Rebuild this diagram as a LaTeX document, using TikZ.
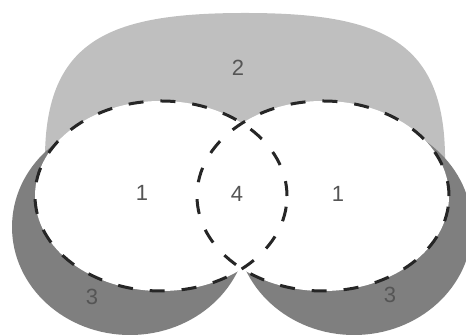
\documentclass[tikz,border=0pt]{standalone}
\usepackage{fontspec}
\setmainfont{Liberation Sans}
\usepackage{xcolor}
\usepackage{tikz}
\definecolor{TopGray}{HTML}{BFBFBF}
\definecolor{LowGray}{HTML}{7F7F7F}
\definecolor{LabelInk}{HTML}{555555}

\begin{document}
\begin{tikzpicture}[x=1pt,y=1pt]
  \path[use as bounding box] (0,0) rectangle (466,336);
  \clip (0,0) rectangle (466,336);

  \tikzset{
    vnTop/.style={fill=TopGray},
    vnLow/.style={fill=LowGray},
    vnSetFill/.style={fill=white},
    vnSetLine/.style={
      draw=black!85,
      line width=3pt,
      dash pattern=on 15pt off 17pt
    },
    vnLabel/.style={
      font=\fontsize{22}{26}\selectfont,
      text=LabelInk,
      inner sep=1pt
    }
  }

  % upper band (region 2)
  \path[vnTop] (45,171) .. controls (43,296) and (108,323) .. (245,323)
    .. controls (382,323) and (447,296) .. (445,171) -- cycle;

  % lower crescents (region 3)
  \path[vnLow] (130,109) ellipse[x radius=118,y radius=108];
  \path[vnLow] (354,109) ellipse[x radius=118,y radius=108];

  % the two sets, filled first, then outlined
  \path[vnSetFill] (161,140) ellipse[x radius=126,y radius=95];
  \path[vnSetFill] (323,140) ellipse[x radius=126,y radius=95];
  \draw[vnSetLine] (161,140) ellipse[x radius=126,y radius=95];
  \draw[vnSetLine] (323,140) ellipse[x radius=126,y radius=95];

  \node[vnLabel] (lblTop) at (238,268) {2};
  \node[vnLabel] (lblLeft) at (142,143) {1};
  \node[vnLabel] (lblMid) at (237,142) {4};
  \node[vnLabel] (lblRight) at (338,142) {1};
  \node[vnLabel] (lblLowL) at (92,39) {3};
  \node[vnLabel] (lblLowR) at (390,41) {3};
\end{tikzpicture}
\end{document}
